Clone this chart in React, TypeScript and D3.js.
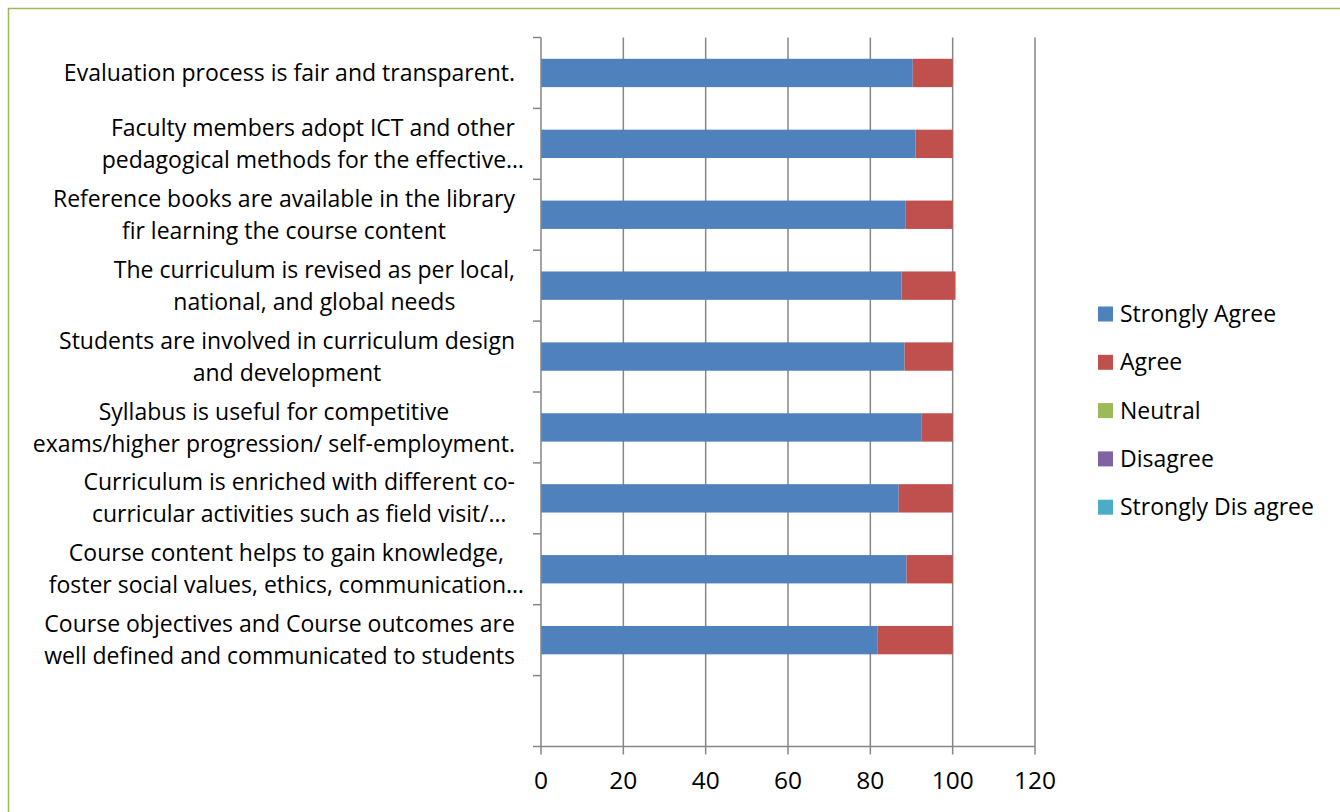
import React, { useEffect, useRef } from "react";
import * as d3 from "d3";

const categories: string[][] = [
  ["Evaluation process is fair and transparent."],
  ["Faculty members adopt ICT and other", "pedagogical methods for the effective…"],
  ["Reference books are available in the library", "fir learning the course content"],
  ["The curriculum is revised as per local,", "national, and global needs"],
  ["Students are involved in curriculum design", "and development"],
  ["Syllabus is useful for competitive", "exams/higher progression/ self-employment."],
  ["Curriculum is enriched with different co-", "curricular activities such as field visit/…"],
  ["Course content helps to gain knowledge,", "foster social values, ethics, communication…"],
  ["Course objectives and Course outcomes are", "well defined and communicated to students"],
  [""],
];

const stronglyAgree = [90.3, 91.0, 88.5, 87.6, 88.3, 92.5, 86.9, 88.8, 81.8, 0];
const agree = [9.7, 9.0, 11.5, 13.1, 11.7, 7.5, 13.1, 11.2, 18.2, 0];
const neutral = [0, 0, 0, 0, 0, 0, 0, 0, 0, 0];
const disagree = [0, 0, 0, 0, 0, 0, 0, 0, 0, 0];
const stronglyDisagree = [0, 0, 0, 0, 0, 0, 0, 0, 0, 0];

const seriesNames = ["Strongly Agree", "Agree", "Neutral", "Disagree", "Strongly Dis agree"];
const seriesColors = ["#4F81BD", "#C0504D", "#9BBB59", "#8064A2", "#4BACC6"];
const xTicks = [0, 20, 40, 60, 80, 100, 120];

const FONT = "'Open Sans', 'Noto Sans', sans-serif";
const FS = 23;
const TICK_FS = 24.5;

export default function App() {
  const ref = useRef<SVGSVGElement>(null);

  useEffect(() => {
    const svg = d3.select(ref.current!);
    svg.selectAll("*").remove();

    const left = 541, right = 1035, top = 37.5, bottom = 746.5;
    const x = d3.scaleLinear().domain([0, 120]).range([left, right]);
    const y = d3
      .scaleBand<number>()
      .domain(d3.range(categories.length))
      .range([top, bottom])
      .paddingInner(0)
      .paddingOuter(0);
    const barH = y.bandwidth() * 0.4;

    // border
    svg
      .append("rect")
      .attr("x", 8.5)
      .attr("y", 8.5)
      .attr("width", 1400)
      .attr("height", 900)
      .attr("fill", "none")
      .attr("stroke", "#9BBB59")
      .attr("stroke-width", 1.5);

    const gridColor = "#868686";
    const gw = 1.5;

    // vertical gridlines
    svg
      .append("g")
      .selectAll("line")
      .data(xTicks.slice(1))
      .join("line")
      .attr("x1", (d) => x(d))
      .attr("x2", (d) => x(d))
      .attr("y1", top)
      .attr("y2", bottom)
      .attr("stroke", gridColor)
      .attr("stroke-width", gw);

    // stacked bars
    const seriesData = [stronglyAgree, agree, neutral, disagree, stronglyDisagree];
    const rows = categories.map((_, i) => {
      const r: any = { i };
      seriesNames.forEach((s, k) => (r[s] = seriesData[k][i]));
      return r;
    });
    const stack = d3.stack<any>().keys(seriesNames)(rows);
    const gBars = svg.append("g");
    stack.forEach((layer, k) => {
      gBars
        .append("g")
        .selectAll("rect")
        .data(layer.filter((d) => d[1] - d[0] > 0))
        .join("rect")
        .attr("x", (d) => x(d[0]))
        .attr("width", (d) => x(d[1]) - x(d[0]))
        .attr("y", (d) => (y(d.data.i) as number) + (y.bandwidth() - barH) / 2)
        .attr("height", barH)
        .attr("fill", seriesColors[k]);
    });

    // y axis line + ticks
    const axis = svg.append("g");
    axis
      .append("line")
      .attr("x1", left)
      .attr("x2", left)
      .attr("y1", top)
      .attr("y2", bottom)
      .attr("stroke", gridColor)
      .attr("stroke-width", gw);
    const yBounds = d3.range(categories.length + 1).map((i) => top + i * y.step());
    axis
      .selectAll("line.yt")
      .data(yBounds)
      .join("line")
      .attr("class", "yt")
      .attr("x1", left - 8)
      .attr("x2", left)
      .attr("y1", (d) => d)
      .attr("y2", (d) => d)
      .attr("stroke", gridColor)
      .attr("stroke-width", gw);

    // x axis line + ticks
    axis
      .append("line")
      .attr("x1", left)
      .attr("x2", right)
      .attr("y1", bottom)
      .attr("y2", bottom)
      .attr("stroke", gridColor)
      .attr("stroke-width", gw);
    axis
      .selectAll("line.xt")
      .data(xTicks)
      .join("line")
      .attr("class", "xt")
      .attr("x1", (d) => x(d))
      .attr("x2", (d) => x(d))
      .attr("y1", bottom)
      .attr("y2", bottom + 8)
      .attr("stroke", gridColor)
      .attr("stroke-width", gw);
    axis
      .selectAll("text.xl")
      .data(xTicks)
      .join("text")
      .attr("class", "xl")
      .attr("x", (d) => x(d))
      .attr("y", 780)
      .attr("dy", "0.35em")
      .attr("text-anchor", "middle")
      .attr("font-family", FONT)
      .attr("font-size", TICK_FS)
      .attr("fill", "#000")
      .text((d) => String(d));

    // category labels
    const labelRight = 515;
    const lineGap = 32;
    categories.forEach((lines, i) => {
      const cy = (y(i) as number) + y.bandwidth() / 2;
      const g = svg.append("g");
      const texts = lines.map((line, j) =>
        g
          .append("text")
          .attr("y", cy + (j - (lines.length - 1) / 2) * lineGap)
          .attr("dy", "0.35em")
          .attr("text-anchor", "middle")
          .attr("font-family", FONT)
          .attr("font-size", FS)
          .attr("fill", "#000")
          .text(line)
      );
      const widths = texts.map((t, j) => {
        const line = lines[j];
        if (line.endsWith("…")) {
          const tmp = g.append("text").attr("font-family", FONT).attr("font-size", FS).text(line.slice(0, -1));
          const w = (tmp.node() as SVGTextElement).getComputedTextLength();
          tmp.remove();
          return w;
        }
        return (t.node() as SVGTextElement).getComputedTextLength();
      });
      const maxW = d3.max(widths) || 0;
      const cx = labelRight - maxW / 2;
      texts.forEach((t) => t.attr("x", cx));
    });

    // legend
    const legend = svg.append("g");
    seriesNames.forEach((name, k) => {
      const cy = 314 + k * 48.3;
      legend
        .append("rect")
        .attr("x", 1098)
        .attr("y", cy - 7.5)
        .attr("width", 15)
        .attr("height", 15)
        .attr("fill", seriesColors[k]);
      legend
        .append("text")
        .attr("x", 1120)
        .attr("y", cy)
        .attr("dy", "0.35em")
        .attr("font-family", FONT)
        .attr("font-size", FS)
        .attr("fill", "#000")
        .text(name);
    });
  }, []);

  return (
    <svg
      ref={ref}
      width={1340}
      height={812}
      style={{ position: "absolute", left: 0, top: 0, display: "block", background: "#fff" }}
    />
  );
}
